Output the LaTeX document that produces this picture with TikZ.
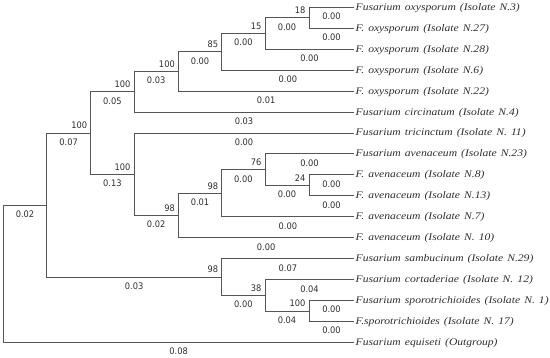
\documentclass[tikz,border=0pt]{standalone}
\usepackage{fontspec}
\setmainfont{Liberation Serif}
\newfontfamily\taxfont[FakeStretch=1.15,WordSpace=1.4]{Liberation Serif}
\newfontfamily\numfont[FakeStretch=0.92]{DejaVu Sans}
\definecolor{linec}{RGB}{85,85,85}
\definecolor{txtc}{RGB}{45,45,45}
\begin{document}
\begin{tikzpicture}[x=1pt,y=-1pt,
  branch/.style={draw=linec,line width=0.9pt},
  blen/.style={font=\numfont\fontsize{9}{10}\selectfont,text=txtc,anchor=base,inner sep=0pt,yshift=-12.4pt},
  boot/.style={font=\numfont\fontsize{9}{10}\selectfont,text=txtc,anchor=base east,inner sep=0pt,xshift=-3.3pt,yshift=4.2pt},
  taxon/.style={font=\taxfont\itshape\fontsize{10.1}{12}\selectfont,text=txtc,anchor=base west,inner sep=0pt,xshift=1.5pt,yshift=-3pt}]
\useasboundingbox (0,0) rectangle (550,358);
% leaf ends
\coordinate (l0) at (354,7.3);
\coordinate (l1) at (354,28.25);
\coordinate (l2) at (354,49.2);
\coordinate (l3) at (354,70.15);
\coordinate (l4) at (354,91.1);
\coordinate (l5) at (354,112.05);
\coordinate (l6) at (354,133.0);
\coordinate (l7) at (354,153.95);
\coordinate (l8) at (354,174.9);
\coordinate (l9) at (354,195.85);
\coordinate (l10) at (354,216.8);
\coordinate (l11) at (354,237.75);
\coordinate (l12) at (354,258.7);
\coordinate (l13) at (354,279.65);
\coordinate (l14) at (354,300.6);
\coordinate (l15) at (354,321.55);
\coordinate (l16) at (354,342.5);
% taxon labels
\node[taxon] (t0) at (l0) {Fusarium oxysporum (Isolate N.3)};
\node[taxon] (t1) at (l1) {F. oxysporum (Isolate N.27)};
\node[taxon] (t2) at (l2) {F. oxysporum (Isolate N.28)};
\node[taxon] (t3) at (l3) {F. oxysporum (Isolate N.6)};
\node[taxon] (t4) at (l4) {F. oxysporum (Isolate N.22)};
\node[taxon] (t5) at (l5) {Fusarium circinatum (Isolate N.4)};
\node[taxon] (t6) at (l6) {Fusarium tricinctum (Isolate N. 11)};
\node[taxon] (t7) at (l7) {Fusarium avenaceum (Isolate N.23)};
\node[taxon] (t8) at (l8) {F. avenaceum (Isolate N.8)};
\node[taxon] (t9) at (l9) {F. avenaceum (Isolate N.13)};
\node[taxon] (t10) at (l10) {F. avenaceum (Isolate N.7)};
\node[taxon] (t11) at (l11) {F. avenaceum (Isolate N. 10)};
\node[taxon] (t12) at (l12) {Fusarium sambucinum (Isolate N.29)};
\node[taxon] (t13) at (l13) {Fusarium cortaderiae (Isolate N. 12)};
\node[taxon] (t14) at (l14) {Fusarium sporotrichioides (Isolate N. 1)};
\node[taxon] (t15) at (l15) {F.sporotrichioides (Isolate N. 17)};
\node[taxon] (t16) at (l16) {Fusarium equiseti (Outgroup)};
% internal nodes
\coordinate (H) at (309,17.775);
\coordinate (G) at (265,33.49);
\coordinate (F) at (221.7,51.82);
\coordinate (E) at (178.3,71.46);
\coordinate (D) at (134,91.75);
\coordinate (M) at (309,185.375);
\coordinate (L) at (265,169.66);
\coordinate (K) at (221.7,193.23);
\coordinate (J) at (178.3,215.49);
\coordinate (I) at (134,174.25);
\coordinate (B) at (90.7,133);
\coordinate (O) at (309,311.075);
\coordinate (N) at (265,295.36);
\coordinate (C) at (221.7,277.03);
\coordinate (A) at (46.7,205.0);
\coordinate (R) at (3.3,273.75);
% bootstrap values
\node[boot] (bH) at (H) {18};
\node[boot] (bG) at (G) {15};
\node[boot] (bF) at (F) {85};
\node[boot] (bE) at (E) {100};
\node[boot] (bD) at (D) {100};
\node[boot] (bB) at (B) {100};
\node[boot] (bM) at (M) {24};
\node[boot] (bL) at (L) {76};
\node[boot] (bK) at (K) {98};
\node[boot] (bJ) at (J) {98};
\node[boot] (bI) at (I) {100};
\node[boot] (bO) at (O) {100};
\node[boot] (bN) at (N) {38};
\node[boot] (bC) at (C) {98};
% branches with lengths
\path[branch] (H) |- (l0) node[pos=0.75,blen] (e1) {0.00};
\path[branch] (H) |- (l1) node[pos=0.75,blen] (e2) {0.00};
\path[branch] (G) |- (H) node[pos=0.75,blen] (e3) {0.00};
\path[branch] (G) |- (l2) node[pos=0.75,blen] (e4) {0.00};
\path[branch] (F) |- (G) node[pos=0.75,blen] (e5) {0.00};
\path[branch] (F) |- (l3) node[pos=0.75,blen] (e6) {0.00};
\path[branch] (E) |- (F) node[pos=0.75,blen] (e7) {0.00};
\path[branch] (E) |- (l4) node[pos=0.75,blen] (e8) {0.01};
\path[branch] (D) |- (E) node[pos=0.75,blen] (e9) {0.03};
\path[branch] (D) |- (l5) node[pos=0.75,blen] (e10) {0.03};
\path[branch] (B) |- (D) node[pos=0.75,blen] (e11) {0.05};
\path[branch] (I) |- (l6) node[pos=0.75,blen] (e12) {0.00};
\path[branch] (L) |- (l7) node[pos=0.75,blen] (e13) {0.00};
\path[branch] (M) |- (l8) node[pos=0.75,blen] (e14) {0.00};
\path[branch] (M) |- (l9) node[pos=0.75,blen] (e15) {0.00};
\path[branch] (L) |- (M) node[pos=0.75,blen] (e16) {0.00};
\path[branch] (K) |- (L) node[pos=0.75,blen] (e17) {0.00};
\path[branch] (K) |- (l10) node[pos=0.75,blen] (e18) {0.00};
\path[branch] (J) |- (K) node[pos=0.75,blen] (e19) {0.01};
\path[branch] (J) |- (l11) node[pos=0.75,blen] (e20) {0.00};
\path[branch] (I) |- (J) node[pos=0.75,blen] (e21) {0.02};
\path[branch] (B) |- (I) node[pos=0.75,blen] (e22) {0.13};
\path[branch] (A) |- (B) node[pos=0.75,blen] (e23) {0.07};
\path[branch] (C) |- (l12) node[pos=0.75,blen] (e24) {0.07};
\path[branch] (N) |- (l13) node[pos=0.75,blen] (e25) {0.04};
\path[branch] (O) |- (l14) node[pos=0.75,blen] (e26) {0.00};
\path[branch] (O) |- (l15) node[pos=0.75,blen] (e27) {0.00};
\path[branch] (N) |- (O) node[pos=0.75,blen] (e28) {0.04};
\path[branch] (C) |- (N) node[pos=0.75,blen] (e29) {0.00};
\path[branch] (A) |- (C) node[pos=0.75,blen] (e30) {0.03};
\path[branch] (R) |- (A) node[pos=0.75,blen] (e31) {0.02};
\path[branch] (R) |- (l16) node[pos=0.75,blen] (e32) {0.08};
\end{tikzpicture}
\end{document}
